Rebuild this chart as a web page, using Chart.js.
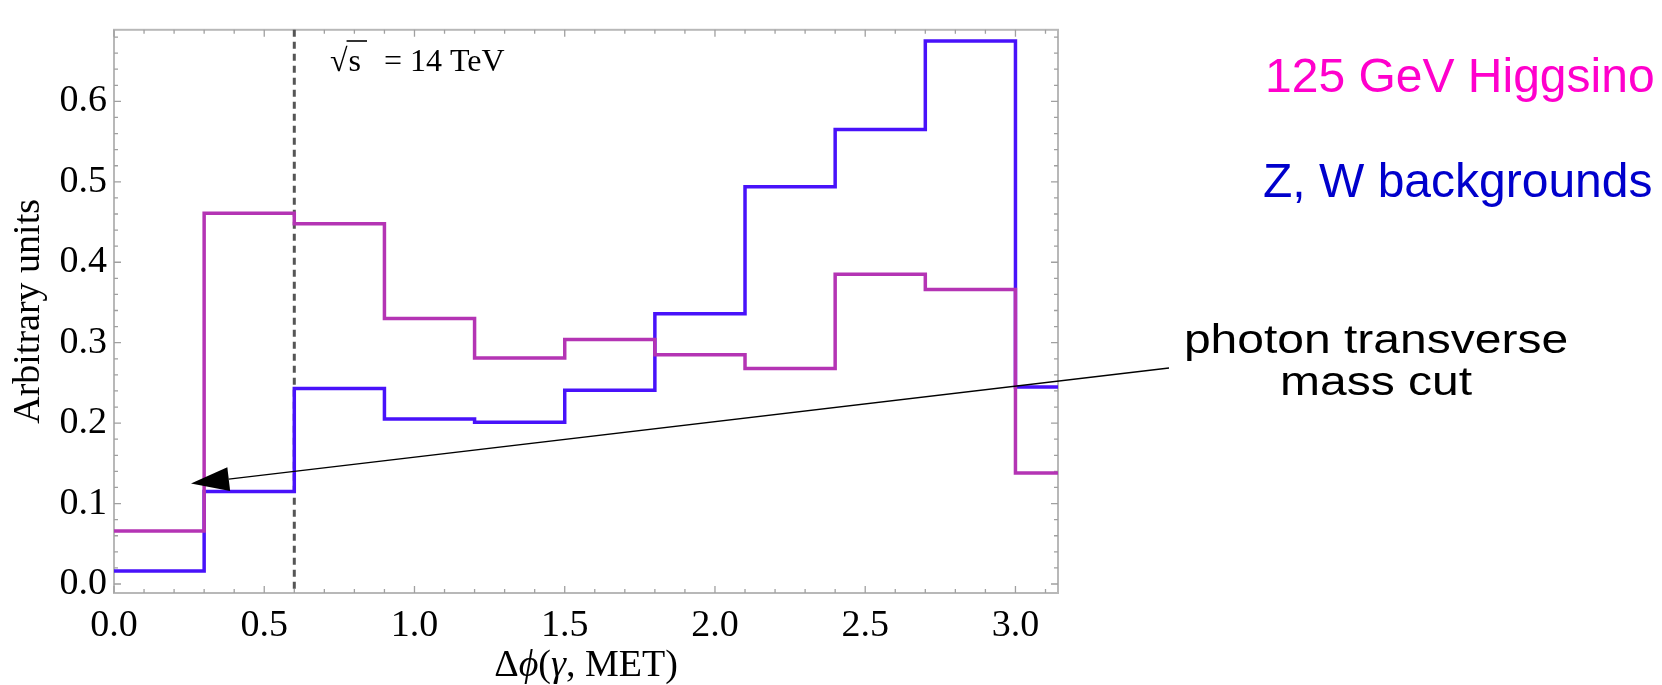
<!DOCTYPE html>
<html>
<head>
<meta charset="utf-8">
<script src="https://cdn.jsdelivr.net/npm/chart.js@4.4.0/dist/chart.umd.min.js"></script>
<style>
  html, body { margin: 0; padding: 0; background: #fff; }
</style>
</head>
<body>
<canvas id="dphiChart" width="1662" height="685"></canvas>
<script>
// bin edges of delta phi(gamma, MET); the last bin runs past pi and is clipped
const binEdges = [0.0, 0.3, 0.6, 0.9, 1.2, 1.5, 1.8, 2.1, 2.4, 2.7, 3.0, 3.3];
const higgsinoValues = [0.066, 0.461, 0.448, 0.330, 0.281, 0.304, 0.285, 0.268, 0.385, 0.366, 0.138];
const backgroundValues = [0.016, 0.115, 0.243, 0.205, 0.201, 0.241, 0.336, 0.494, 0.565, 0.675, 0.245];
const xTickValues = [0.0, 0.5, 1.0, 1.5, 2.0, 2.5, 3.0];
const yTickValues = [0.0, 0.1, 0.2, 0.3, 0.4, 0.5, 0.6];
const cutValue = 0.6;

const higgsinoLine = 'rgb(180, 52, 180)';
const backgroundLine = 'rgb(72, 18, 250)';

// one point per left bin edge, plus a closing point at the last edge
function stepPoints(values) {
  const pts = values.map((v, i) => ({ x: binEdges[i], y: v }));
  pts.push({ x: binEdges[values.length], y: values[values.length - 1] });
  return pts;
}

const serif = "'Liberation Serif', 'Times New Roman', serif";
const sans = "'Liberation Sans', Arial, sans-serif";

const framePlugin = {
  id: 'frameAndNotes',
  beforeDatasetsDraw(chart) {
    const { ctx, chartArea: a, scales: { x, y } } = chart;
    ctx.save();
    // frame
    ctx.strokeStyle = '#b8b8b8';
    ctx.lineWidth = 2;
    ctx.strokeRect(a.left, a.top, a.right - a.left, a.bottom - a.top);
    // inward ticks on all four sides
    ctx.strokeStyle = '#a0a0a0';
    ctx.lineWidth = 1.3;
    ctx.beginPath();
    for (let i = 0; i <= 31; i++) {
      const px = x.getPixelForValue(i / 10);
      const len = i % 5 === 0 ? 7 : 4;
      ctx.moveTo(px, a.bottom); ctx.lineTo(px, a.bottom - len);
      ctx.moveTo(px, a.top); ctx.lineTo(px, a.top + len);
    }
    for (let i = 0; i <= 34; i++) {
      const py = y.getPixelForValue(i / 50);
      const len = i % 5 === 0 ? 7 : 4;
      ctx.moveTo(a.left, py); ctx.lineTo(a.left + len, py);
      ctx.moveTo(a.right, py); ctx.lineTo(a.right - len, py);
    }
    ctx.stroke();
    // dashed cut line
    const cx = x.getPixelForValue(cutValue);
    ctx.strokeStyle = '#555';
    ctx.lineWidth = 3;
    ctx.setLineDash([7, 5]);
    ctx.beginPath();
    ctx.moveTo(cx, a.top);
    ctx.lineTo(cx, a.bottom);
    ctx.stroke();
    ctx.restore();
  },
  afterDraw(chart) {
    const { ctx, chartArea: a } = chart;
    ctx.save();
    ctx.fillStyle = '#000';
    ctx.textBaseline = 'alphabetic';

    // sqrt(s) = 14 TeV
    ctx.font = '32px ' + serif;
    ctx.textAlign = 'left';
    const rx = 330, base = 71;
    ctx.fillText('\u221A', rx, base);
    const rw = ctx.measureText('\u221A').width;
    ctx.fillText('s', rx + rw + 1, base);
    const sw = ctx.measureText('s').width;
    ctx.strokeStyle = '#000';
    ctx.lineWidth = 1.6;
    ctx.beginPath();
    ctx.moveTo(rx + rw - 1, 41);
    ctx.lineTo(rx + rw + sw + 7, 41);
    ctx.stroke();
    ctx.fillText('= 14 TeV', 384, base);

    // axis titles
    const parts = [['\u0394', false], ['\u03D5', true], ['(', false], ['\u03B3', true], [', MET)', false]];
    let total = 0;
    parts.forEach(p => {
      ctx.font = (p[1] ? 'italic ' : '') + '38px ' + serif;
      total += ctx.measureText(p[0]).width;
    });
    let tx = (a.left + a.right) / 2 - total / 2;
    parts.forEach(p => {
      ctx.font = (p[1] ? 'italic ' : '') + '38px ' + serif;
      ctx.fillText(p[0], tx, 676);
      tx += ctx.measureText(p[0]).width;
    });
    ctx.save();
    ctx.font = '38px ' + serif;
    ctx.translate(39, (a.top + a.bottom) / 2);
    ctx.rotate(-Math.PI / 2);
    ctx.textAlign = 'center';
    ctx.fillText('Arbitrary units', 0, 0);
    ctx.restore();

    // legend-like labels
    ctx.font = '48px ' + sans;
    ctx.textAlign = 'left';
    ctx.fillStyle = '#ff00cc';
    ctx.fillText('125 GeV Higgsino', 1265, 92);
    ctx.fillStyle = '#0000cc';
    ctx.fillText('Z, W backgrounds', 1263, 197);

    // annotation
    ctx.fillStyle = '#000';
    ctx.font = '40px ' + sans;
    ctx.textAlign = 'center';
    [['photon transverse', 353], ['mass cut', 395]].forEach(([t, yb]) => {
      ctx.save();
      ctx.translate(1376, yb);
      ctx.scale(1.2, 1);
      ctx.fillText(t, 0, 0);
      ctx.restore();
    });

    // arrow
    const tail = { x: 1169, y: 368 }, tip = { x: 191, y: 483.5 };
    const ang = Math.atan2(tip.y - tail.y, tip.x - tail.x);
    const hl = 38, hw = 12;
    const bx = tip.x - hl * Math.cos(ang), by = tip.y - hl * Math.sin(ang);
    ctx.strokeStyle = '#000';
    ctx.lineWidth = 1.3;
    ctx.beginPath();
    ctx.moveTo(tail.x, tail.y);
    ctx.lineTo(bx, by);
    ctx.stroke();
    ctx.beginPath();
    ctx.moveTo(tip.x, tip.y);
    ctx.lineTo(bx + hw * Math.sin(ang), by - hw * Math.cos(ang));
    ctx.lineTo(bx - hw * Math.sin(ang), by + hw * Math.cos(ang));
    ctx.closePath();
    ctx.fill();
    ctx.restore();
  }
};

const ctx = document.getElementById('dphiChart').getContext('2d');
new Chart(ctx, {
  type: 'line',
  data: {
    datasets: [
      {
        label: '125 GeV Higgsino',
        data: stepPoints(higgsinoValues),
        borderColor: higgsinoLine,
        borderWidth: 3.5,
        stepped: 'before',
        pointRadius: 0,
        fill: false,
        clip: { left: 0, right: 0, top: 5, bottom: 5 },
      },
      {
        label: 'Z, W backgrounds',
        data: stepPoints(backgroundValues),
        borderColor: backgroundLine,
        borderWidth: 3.5,
        stepped: 'before',
        pointRadius: 0,
        fill: false,
        clip: { left: 0, right: 0, top: 5, bottom: 5 },
      },
    ],
  },
  options: {
    responsive: false,
    animation: false,
    layout: { padding: { left: 0, top: 11, right: 604, bottom: 0 } },
    plugins: {
      legend: { display: false },
      tooltip: { enabled: false },
    },
    scales: {
      x: {
        type: 'linear',
        min: 0,
        max: Math.PI,
        afterFit: (s) => { s.height = 92; },
        afterBuildTicks: (s) => { s.ticks = xTickValues.map(v => ({ value: v })); },
        grid: { display: false, drawTicks: false },
        border: { display: false },
        ticks: {
          padding: 10,
          maxRotation: 0,
          autoSkip: false,
          color: '#000',
          font: { family: serif, size: 38 },
          callback: (v) => v.toFixed(1),
        },
      },
      y: {
        type: 'linear',
        min: -0.0112,
        max: 0.689,
        afterFit: (s) => { s.width = 114; },
        afterBuildTicks: (s) => { s.ticks = yTickValues.map(v => ({ value: v })); },
        grid: { display: false, drawTicks: false },
        border: { display: false },
        ticks: {
          padding: 7,
          autoSkip: false,
          color: '#000',
          font: { family: serif, size: 38 },
          callback: (v) => v.toFixed(1),
        },
      },
    },
  },
  plugins: [framePlugin],
});
</script>
</body>
</html>
